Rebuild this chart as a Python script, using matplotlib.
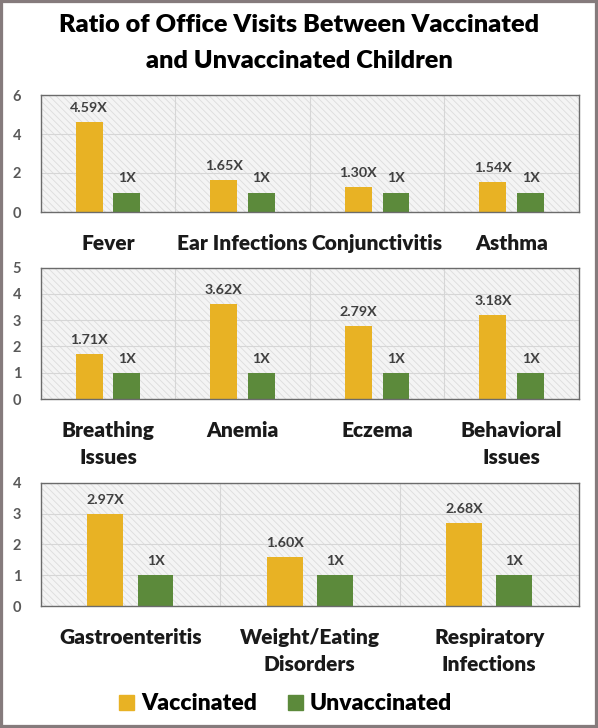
import matplotlib
matplotlib.use("Agg")
import matplotlib.pyplot as plt
from matplotlib.patches import Rectangle, Patch
import numpy as np

plt.rcParams['font.family'] = ['Lato', 'DejaVu Sans']
plt.rcParams['hatch.linewidth'] = 0.6

title_lines = ["Ratio of Office Visits Between Vaccinated", "and Unvaccinated Children"]
series_names = ["Vaccinated", "Unvaccinated"]

cats1 = ["Fever", "Ear Infections", "Conjunctivitis", "Asthma"]
vacc1 = [4.59, 1.65, 1.30, 1.54]
unvacc1 = [1, 1, 1, 1]

cats2 = ["Breathing\nIssues", "Anemia", "Eczema", "Behavioral\nIssues"]
vacc2 = [1.71, 3.62, 2.79, 3.18]
unvacc2 = [1, 1, 1, 1]

cats3 = ["Gastroenteritis", "Weight/Eating\nDisorders", "Respiratory\nInfections"]
vacc3 = [2.97, 1.60, 2.68]
unvacc3 = [1, 1, 1]

ylims = [6, 5, 4]
ysteps = [2, 1, 1]

YELLOW = '#E8B224'
GREEN = '#5C8A3B'
WEIGHT = 'heavy'

W, H = 598, 728
fig = plt.figure(figsize=(W / 100, H / 100), dpi=100)
fig.patch.set_facecolor('white')

def px_rect(left, top, right, bottom):
    return [left / W, 1 - bottom / H, (right - left) / W, (bottom - top) / H]

rects = [px_rect(40.7, 95, 579, 212),
         px_rect(40.7, 267.5, 579, 399),
         px_rect(40.7, 482.7, 579, 606)]

panels = [(cats1, vacc1, unvacc1), (cats2, vacc2, unvacc2), (cats3, vacc3, unvacc3)]

bw = 0.2
off = 0.14
for (cats, vac, unv), rect, ym, ys in zip(panels, rects, ylims, ysteps):
    ax = fig.add_axes(rect)
    n = len(cats)
    x = np.arange(n)
    ax.add_patch(Rectangle((0, 0), 1, 1, transform=ax.transAxes, facecolor='#f4f4f4',
                           edgecolor='#dcdcdc', hatch='\\\\\\\\\\', lw=0, zorder=0.1))
    ax.set_axisbelow(True)
    ax.bar(x - off, vac, bw, color=YELLOW, zorder=2)
    ax.bar(x + off, unv, bw, color=GREEN, zorder=2)
    for xi, v in zip(x - off, vac):
        ax.annotate(f"{v:.2f}X", xy=(xi, v), xytext=(0, 7.2), textcoords='offset points',
                    ha='center', va='baseline', fontsize=10.3, fontweight='bold', color='#404040')
    for xi, v in zip(x + off, unv):
        ax.annotate(f"{v:g}X", xy=(xi, v), xytext=(0, 7.2), textcoords='offset points',
                    ha='center', va='baseline', fontsize=10.3, fontweight='bold', color='#404040')
    ax.set_xlim(-0.5, n - 0.5)
    ax.set_ylim(0, ym)
    ticks = np.arange(0, ym + 0.01, ys)
    ax.set_yticks(ticks)
    ax.set_yticklabels([f"{int(t)}" for t in ticks],
                       fontsize=10.5, fontweight='bold', color='#595959')
    ax.tick_params(axis='y', length=0, pad=14)
    ax.set_xticks([])
    ax.set_xticks(np.arange(0.5, n - 0.5, 1), minor=True)
    ax.tick_params(axis='x', which='both', length=0, labelbottom=False)
    ax.grid(axis='y', which='major', color='#d6d6d6', lw=0.8)
    ax.grid(axis='x', which='minor', color='#d6d6d6', lw=0.8)
    for s in ax.spines.values():
        s.set_color('#6b6b6b')
        s.set_linewidth(1.0)
    for xi, c in zip(x, cats):
        ax.annotate(c, xy=(xi, 0), xycoords=('data', 'axes fraction'), xytext=(0, -15.5),
                    textcoords='offset points', ha='center', va='top', fontsize=15,
                    fontweight=WEIGHT, color='#1a1a1a', linespacing=1.52)

fig.text(0.5, 1 - 31.7 / H, title_lines[0], ha='center', va='baseline', fontsize=18.2,
         fontweight=WEIGHT, color='black')
fig.text(0.5, 1 - 67.7 / H, title_lines[1], ha='center', va='baseline', fontsize=18.2,
         fontweight=WEIGHT, color='black')

handles = [Patch(color=YELLOW), Patch(color=GREEN)]
fig.legend(handles, series_names, loc='center', bbox_to_anchor=(285.5 / W, 1 - 704 / H),
           ncol=2, frameon=False, prop={'size': 16.5, 'weight': WEIGHT},
           handlelength=0.65, handleheight=0.65, handletextpad=0.3, columnspacing=1.35,
           borderaxespad=0, borderpad=0)

fig.add_artist(Rectangle((0, 0), 1, 1, transform=fig.transFigure, fill=False,
                         edgecolor='#857b7c', lw=4.5, zorder=10))

fig.savefig('out.png', dpi=100, facecolor='white')
